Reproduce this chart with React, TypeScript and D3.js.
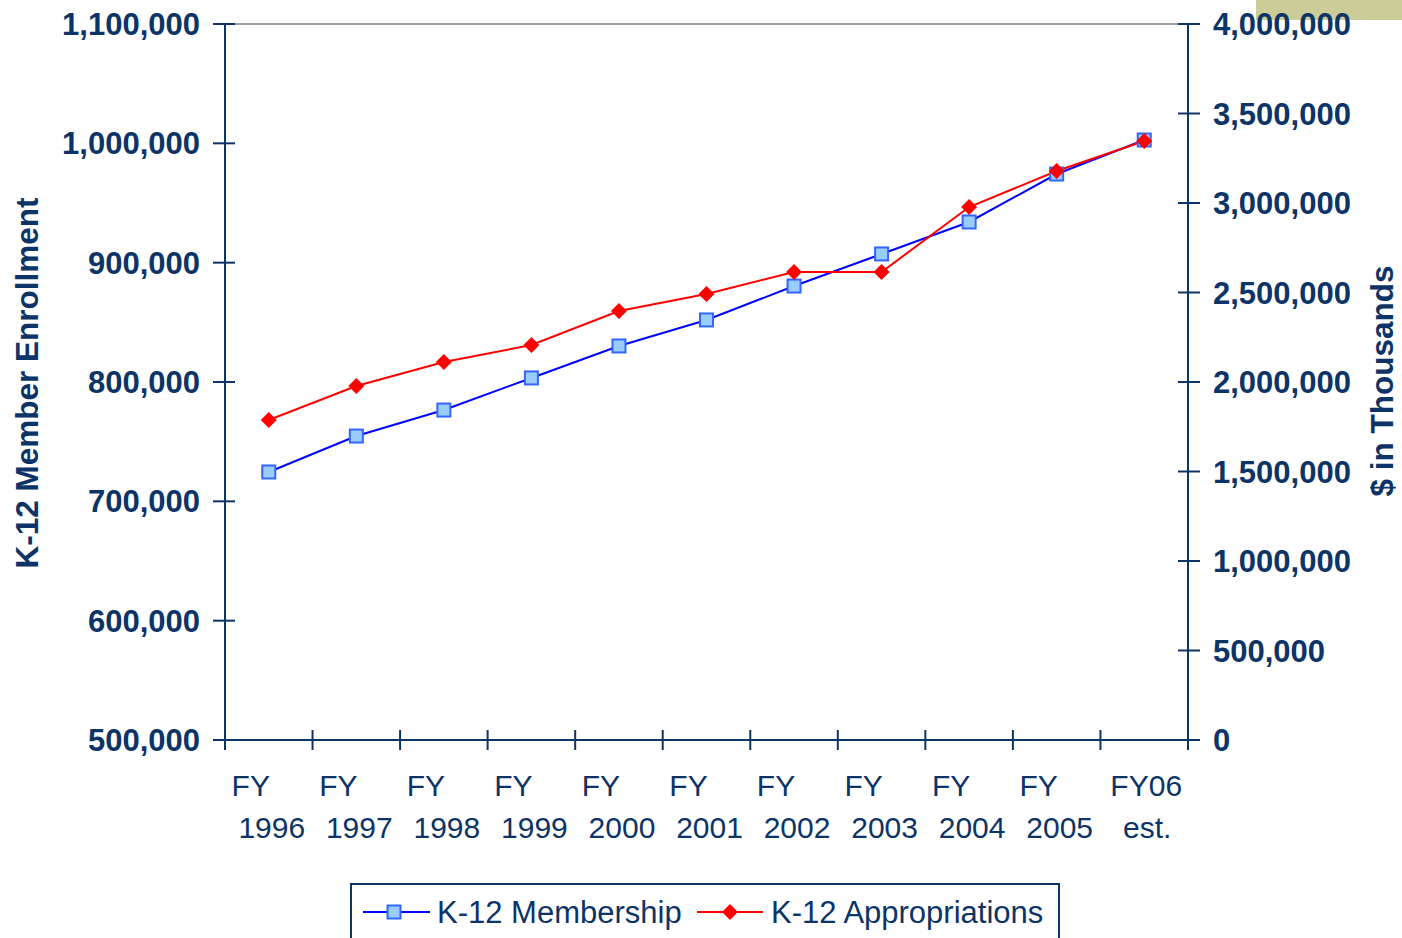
import React from "react";
import * as d3 from "d3";

const categories = ["FY|1996", "FY|1997", "FY|1998", "FY|1999", "FY|2000", "FY|2001", "FY|2002", "FY|2003", "FY|2004", "FY|2005", "FY06|est."];
const membership = [724600, 754700, 776500, 803400, 830200, 852000, 880400, 907300, 934100, 974300, 1002800];
const appropriations = [1787700, 1977700, 2111700, 2206700, 2396600, 2491600, 2614500, 2614500, 2977600, 3178700, 3346300];
const leftTicks = [500000, 600000, 700000, 800000, 900000, 1000000, 1100000];
const rightTicks = [0, 500000, 1000000, 1500000, 2000000, 2500000, 3000000, 3500000, 4000000];

const NAVY = "#0d3466";
const FONT = "'Liberation Sans', Arial, sans-serif";

export default function App() {
  const W = 1402, H = 938;
  const x0 = 225, x1 = 1188, yTop = 24, yBot = 740;
  const x = d3.scaleBand<string>().domain(categories).range([x0, x1]);
  const yL = d3.scaleLinear().domain([500000, 1100000]).range([yBot, yTop]);
  const yR = d3.scaleLinear().domain([0, 4000000]).range([yBot, yTop]);
  const fmt = d3.format(",");
  const cx = (i: number) => (x(categories[i]) as number) + x.bandwidth() / 2;
  const lineL = d3.line<number>().x((_, i) => cx(i)).y((d) => yL(d));
  const lineR = d3.line<number>().x((_, i) => cx(i)).y((d) => yR(d));
  const boundaries = d3.range(categories.length + 1).map((i) => x0 + i * x.bandwidth());

  const square = (px: number, py: number, key: any) => (
    <rect key={key} x={px - 6.5} y={py - 6.5} width={13} height={13} fill="#99ccff" stroke="#3366ff" strokeWidth={2} />
  );
  const diamond = (px: number, py: number, key: any) => (
    <path key={key} d={`M${px},${py - 8}L${px + 8},${py}L${px},${py + 8}L${px - 8},${py}Z`} fill="#ff0000" />
  );

  return (
    <svg width={W} height={H} style={{ position: "absolute", left: 0, top: 0, background: "#fff" }} fontFamily={FONT}>
      <rect x={1256} y={0} width={146} height={20} fill="#cccc99" />
      {/* plot top border */}
      <line x1={x0} x2={x1} y1={yTop} y2={yTop} stroke="#808080" strokeWidth={1.5} />
      {/* left axis */}
      <line x1={x0} x2={x0} y1={yTop} y2={yBot} stroke={NAVY} strokeWidth={2} />
      {leftTicks.map((t) => (
        <g key={t}>
          <line x1={x0 - 12} x2={x0 + 10} y1={yL(t)} y2={yL(t)} stroke={NAVY} strokeWidth={2} />
          <text x={200} y={yL(t)} dy="0.36em" textAnchor="end" fontSize={31} fontWeight="bold" fill={NAVY}>{fmt(t)}</text>
        </g>
      ))}
      {/* right axis */}
      <line x1={x1} x2={x1} y1={yTop} y2={yBot} stroke={NAVY} strokeWidth={2} />
      {rightTicks.map((t) => (
        <g key={t}>
          <line x1={x1 - 10} x2={x1 + 12} y1={yR(t)} y2={yR(t)} stroke={NAVY} strokeWidth={2} />
          <text x={1213} y={yR(t)} dy="0.36em" textAnchor="start" fontSize={31} fontWeight="bold" fill={NAVY}>{fmt(t)}</text>
        </g>
      ))}
      {/* x axis */}
      <line x1={x0} x2={x1} y1={yBot} y2={yBot} stroke={NAVY} strokeWidth={2} />
      {boundaries.map((b, i) => (
        <line key={i} x1={b} x2={b} y1={yBot - 10} y2={yBot + 10} stroke={NAVY} strokeWidth={2} />
      ))}
      {categories.map((c, i) => {
        const [l1, l2] = c.split("|");
        const dx1 = l1 === "FY" ? -18 : 2;
        return (
          <g key={c} fontSize={30} fill={NAVY}>
            <text x={cx(i) + dx1} y={796} textAnchor="middle">{l1}</text>
            <text x={cx(i) + 3} y={838} textAnchor="middle">{l2}</text>
          </g>
        );
      })}
      {/* axis titles */}
      <text transform="translate(38,383) rotate(-90)" textAnchor="middle" fontSize={31.5} fontWeight="bold" fill={NAVY}>K-12 Member Enrollment</text>
      <text transform="translate(1393,381) rotate(-90)" textAnchor="middle" fontSize={31.5} fontWeight="bold" fill={NAVY}>$ in Thousands</text>
      {/* series */}
      <path d={lineL(membership) || ""} fill="none" stroke="#0000ff" strokeWidth={2} />
      <path d={lineR(appropriations) || ""} fill="none" stroke="#ff0000" strokeWidth={2} />
      {membership.map((v, i) => square(cx(i), yL(v), "m" + i))}
      {appropriations.map((v, i) => diamond(cx(i), yR(v), "a" + i))}
      {/* legend */}
      <rect x={351} y={884} width={708} height={70} fill="#fff" stroke={NAVY} strokeWidth={2} />
      <line x1={363} x2={430} y1={912} y2={912} stroke="#0000ff" strokeWidth={2} />
      {square(394, 912, "lm")}
      <text x={437} y={923} fontSize={31} fill={NAVY}>K-12 Membership</text>
      <line x1={697} x2={763} y1={912} y2={912} stroke="#ff0000" strokeWidth={2} />
      {diamond(730, 912, "la")}
      <text x={771} y={923} fontSize={31} fill={NAVY}>K-12 Appropriations</text>
    </svg>
  );
}
